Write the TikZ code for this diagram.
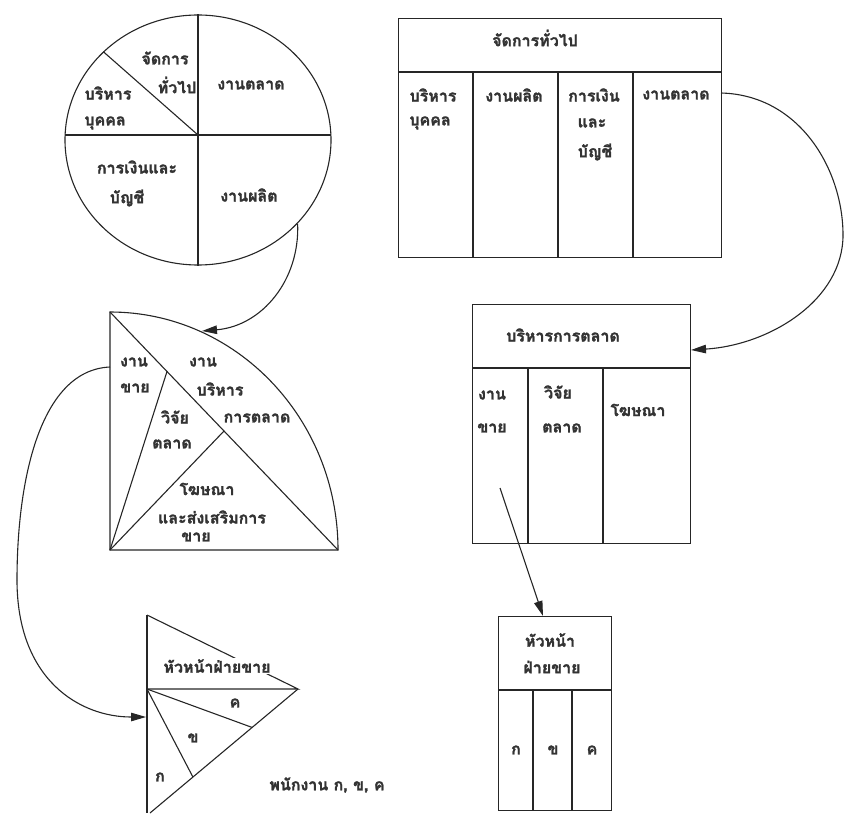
\documentclass[tikz,border=0pt]{standalone}
\usepackage{fontspec}
\newfontfamily\thaifont[Script=Thai,FakeBold=1.6]{Loma}
\usetikzlibrary{arrows.meta,shapes.geometric,calc}

\begin{document}
\begin{tikzpicture}[x=1pt,y=-1pt,line width=1.1pt,
  ink/.style={draw=black!85},
  lbl/.style={font=\thaifont\bfseries\fontsize{16}{19}\selectfont,text=black!80,inner sep=1pt},
  arr/.style={ink,-{Triangle[length=15pt,width=8.5pt]}},
  frame/.style={ink,rectangle,inner sep=0pt,anchor=north west}]
\useasboundingbox (0,0) rectangle (845,813);

% ---------- pie chart of the departments ----------
\node[ink,ellipse,minimum width=266pt,minimum height=250pt,inner sep=0pt] (pie) at (198,140) {};
\coordinate (pc) at (198,135);
\draw[ink] (pie.north) -- (pie.south);
\draw[ink] (65.1,135) -- (330.9,135);
\draw[ink] (pc) -- (pie.137);
\node[lbl] (p1) at (165,58) {จัดการ};
\node[lbl] (p2) at (177,85) {ทั่วไป};
\node[lbl] (p3) at (108,93) {บริหาร};
\node[lbl] (p4) at (105,123) {บุคคล};
\node[lbl] (p5) at (251,85) {งานตลาด};
\node[lbl] (p6) at (137,167) {การเงินและ};
\node[lbl] (p7) at (127,198) {บัญชี};
\node[lbl] (p8) at (249,195) {งานผลิต};

% ---------- organisation table: general management ----------
\node[frame,minimum width=323pt,minimum height=239pt] (t1) at (398,18) {};
\draw[ink] (398,72) -- (721,72);
\foreach \x in {473,558,633} \draw[ink] (\x,72) -- (\x,257);
\node[lbl] (a0) at (535,38) {จัดการทั่วไป};
\node[lbl] (a1) at (433,95) {บริหาร};
\node[lbl] (a2) at (430,123) {บุคคล};
\node[lbl] (a3) at (514,95) {งานผลิต};
\node[lbl] (a4) at (594,95) {การเงิน};
\node[lbl] (a5) at (592,123) {และ};
\node[lbl] (a6) at (595,152) {บัญชี};
\node[lbl] (a7) at (676,95) {งานตลาด};

% ---------- quarter disc: marketing ----------
\coordinate (qt) at (110,312);
\coordinate (qbl) at (110,550);
\coordinate (qbr) at (338,550);
\draw[ink] (qbl) -- (qt) arc[start angle=90,end angle=0,x radius=228pt,y radius=238pt] -- cycle;
\draw[ink] (qt) -- (qbr);
\coordinate (qa) at ($(qt)!0.25!(qbr)$);
\coordinate (qb) at ($(qt)!0.5!(qbr)$);
\draw[ink] (qbl) -- (qa);
\draw[ink] (qbl) -- (qb);
\node[lbl] (q1) at (134,362) {งาน};
\node[lbl] (q2) at (135,388) {ขาย};
\node[lbl] (q3) at (203,362) {งาน};
\node[lbl] (q4) at (220,389) {บริหาร};
\node[lbl] (q5) at (257,418) {การตลาด};
\node[lbl] (q6) at (175,417) {วิจัย};
\node[lbl] (q7) at (172,444) {ตลาด};
\node[lbl] (q8) at (207,489) {โฆษณา};
\node[lbl] (q9) at (212,517) {และส่งเสริมการ};
\node[lbl] (q10) at (196,537) {ขาย};

% ---------- organisation table: marketing management ----------
\node[frame,minimum width=218pt,minimum height=239pt] (t2) at (472,304) {};
\draw[ink] (472,368) -- (690,368);
\foreach \x in {528,603} \draw[ink] (\x,368) -- (\x,543);
\node[lbl] (b0) at (563,335) {บริหารการตลาด};
\node[lbl] (b1) at (492,395) {งาน};
\node[lbl] (b2) at (492,428) {ขาย};
\node[lbl] (b3) at (558,392) {วิจัย};
\node[lbl] (b4) at (562,428) {ตลาด};
\node[lbl] (b5) at (638,410) {โฆษณา};

% ---------- wedge: sales head and staff ----------
\coordinate (wt) at (147,615);
\coordinate (wm) at (147,689);
\coordinate (wr) at (298,689);
\coordinate (wb) at (147,813);
\coordinate (wl) at (150,813);
\draw[ink] (wt) -- (wb);
\draw[ink] (wt) -- (wr) -- (wm);
\draw[ink] (wr) -- (wl);
\draw[ink] (wm) -- ($(wr)!0.31!(wl)$);
\draw[ink] (wm) -- ($(wr)!0.71!(wl)$);
\node[lbl,fill=white,inner sep=1.5pt] (w0) at (217,666) {หัวหน้าฝ่ายขาย};
\node[lbl] (w1) at (235,703) {ค};
\node[lbl] (w2) at (193,738) {ข};
\node[lbl] (w3) at (160,777) {ก};
\node[lbl] (w4) at (327,785) {พนักงาน ก, ข, ค};

% ---------- organisation table: sales head ----------
\node[frame,minimum width=113pt,minimum height=194pt] (t3) at (498,616) {};
\draw[ink] (498,690) -- (611,690);
\foreach \x in {533,572} \draw[ink] (\x,690) -- (\x,810);
\node[lbl] (c0) at (550,640) {หัวหน้า};
\node[lbl] (c1) at (552,667) {ฝ่ายขาย};
\node[lbl] (c2) at (516,750) {ก};
\node[lbl] (c3) at (553,750) {ข};
\node[lbl] (c4) at (592,750) {ค};

% ---------- connectors ----------
\coordinate (s1) at (pie.-40);
\coordinate (e1) at (202,331);
\draw[arr] (s1) .. controls (300,280) and (262,326) .. (e1);

\coordinate (s2) at (721,93);
\coordinate (m2) at (843,235);
\coordinate (e2) at (691,350);
\draw[ink] (s2) .. controls (800,95) and (843,170) .. (m2);
\draw[arr] (m2) .. controls (843,300) and (770,345) .. (e2);

\coordinate (s3) at (110,367);
\coordinate (m3) at (17,580);
\coordinate (e3) at (146,717);
\draw[ink] (s3) .. controls (40,370) and (17,480) .. (m3);
\draw[arr] (m3) .. controls (17,680) and (80,717) .. (e3);

\coordinate (s4) at (500,488);
\coordinate (e4) at (543,616);
\draw[arr] (s4) -- (e4);
\end{tikzpicture}
\end{document}
